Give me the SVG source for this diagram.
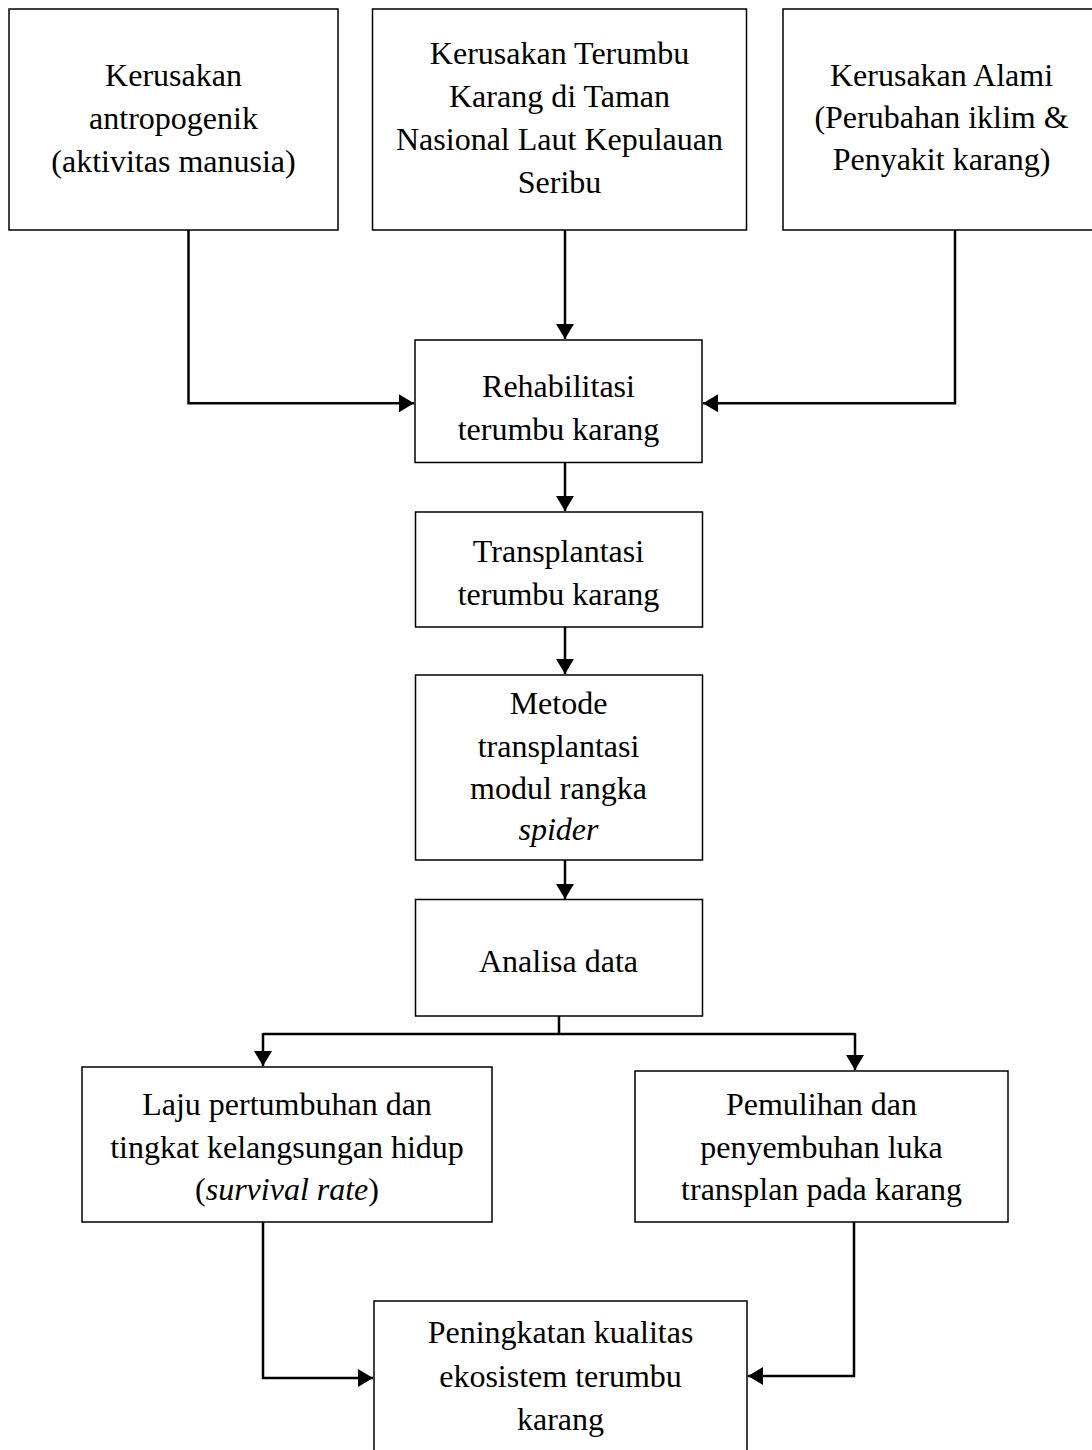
<svg xmlns="http://www.w3.org/2000/svg" width="1092" height="1450" viewBox="0 0 1092 1450">
<style>
.box{fill:#fff;stroke:#000;stroke-width:1.5}
.t{font-family:"Liberation Serif","Times New Roman",serif;font-size:32px;fill:#000;text-anchor:middle}
.c{fill:none;stroke:#000;stroke-width:2.5}
</style>
<defs>
<marker id="ah" markerUnits="userSpaceOnUse" markerWidth="16" markerHeight="18" refX="15" refY="9" orient="auto">
<path d="M0,0 L15,9 L0,18 z" fill="#000"/>
</marker>
</defs>
<rect width="1092" height="1450" fill="#fff"/>
<g id="connectors">
<path class="c" d="M188.5,230 V403.3 H414" marker-end="url(#ah)"/>
<path class="c" d="M565,230 V339" marker-end="url(#ah)"/>
<path class="c" d="M955,230 V403.3 H703" marker-end="url(#ah)"/>
<path class="c" d="M565,462.5 V511" marker-end="url(#ah)"/>
<path class="c" d="M565,627 V674" marker-end="url(#ah)"/>
<path class="c" d="M565,860 V899" marker-end="url(#ah)"/>
<path class="c" d="M559,1016 V1034"/>
<path class="c" d="M263,1034 H855"/>
<path class="c" d="M263,1033 V1066" marker-end="url(#ah)"/>
<path class="c" d="M855,1033 V1070" marker-end="url(#ah)"/>
<path class="c" d="M263,1222 V1378 H373" marker-end="url(#ah)"/>
<path class="c" d="M854,1222 V1376 H748" marker-end="url(#ah)"/>
</g>
<g id="n1">
<rect class="box" x="9" y="9" width="329" height="221"/>
<text class="t" x="173.5" y="86">Kerusakan</text>
<text class="t" x="173.5" y="129">antropogenik</text>
<text class="t" x="173.5" y="172">(aktivitas manusia)</text>
</g>
<g id="n2">
<rect class="box" x="372.5" y="9" width="374" height="221"/>
<text class="t" x="559.5" y="64">Kerusakan Terumbu</text>
<text class="t" x="559.5" y="107">Karang di Taman</text>
<text class="t" x="559.5" y="150">Nasional Laut Kepulauan</text>
<text class="t" x="559.5" y="193">Seribu</text>
</g>
<g id="n3">
<rect class="box" x="783" y="9" width="320" height="221"/>
<text class="t" x="941.5" y="86">Kerusakan Alami</text>
<text class="t" x="941.5" y="128">(Perubahan iklim &amp;</text>
<text class="t" x="941.5" y="170">Penyakit karang)</text>
</g>
<g id="n4">
<rect class="box" x="415" y="340" width="287" height="122.5"/>
<text class="t" x="558.5" y="397">Rehabilitasi</text>
<text class="t" x="558.5" y="440">terumbu karang</text>
</g>
<g id="n5">
<rect class="box" x="415.5" y="512" width="287" height="115"/>
<text class="t" x="558.5" y="562">Transplantasi</text>
<text class="t" x="558.5" y="605">terumbu karang</text>
</g>
<g id="n6">
<rect class="box" x="415.5" y="675" width="287" height="185"/>
<text class="t" x="558.5" y="714">Metode</text>
<text class="t" x="558.5" y="756.5">transplantasi</text>
<text class="t" x="558.5" y="798.5">modul rangka</text>
<text class="t" x="558.5" y="840" font-style="italic">spider</text>
</g>
<g id="n7">
<rect class="box" x="415.5" y="899.5" width="287" height="116.5"/>
<text class="t" x="558.5" y="972">Analisa data</text>
</g>
<g id="n8">
<rect class="box" x="82" y="1067" width="410" height="155"/>
<text class="t" x="287" y="1115">Laju pertumbuhan dan</text>
<text class="t" x="287" y="1158">tingkat kelangsungan hidup</text>
<text class="t" x="287" y="1200">(<tspan font-style="italic">survival rate</tspan>)</text>
</g>
<g id="n9">
<rect class="box" x="635" y="1071" width="373" height="151"/>
<text class="t" x="821.5" y="1115">Pemulihan dan</text>
<text class="t" x="821.5" y="1158">penyembuhan luka</text>
<text class="t" x="821.5" y="1200">transplan pada karang</text>
</g>
<g id="n10">
<rect class="box" x="374" y="1301" width="373" height="160"/>
<text class="t" x="560.5" y="1343">Peningkatan kualitas</text>
<text class="t" x="560.5" y="1386.5">ekosistem terumbu</text>
<text class="t" x="560.5" y="1430">karang</text>
</g>
</svg>
